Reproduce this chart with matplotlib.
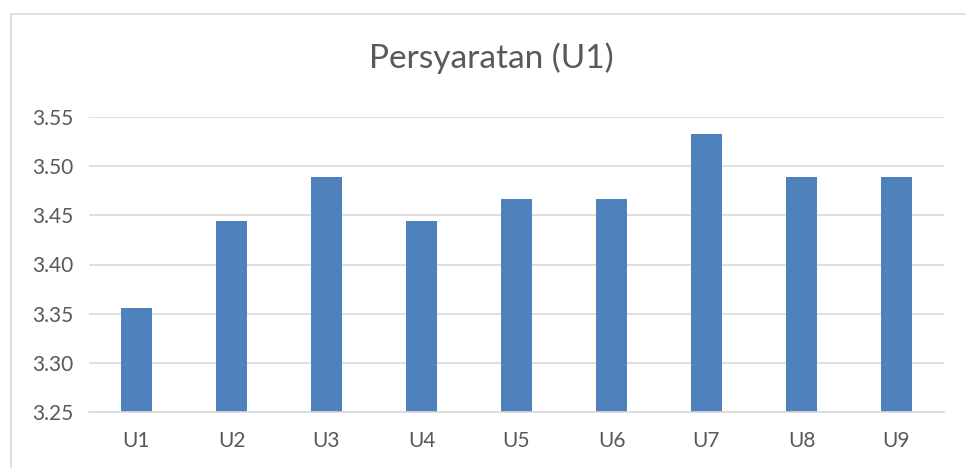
import numpy as np
import matplotlib
matplotlib.use("Agg")
import matplotlib.pyplot as plt
from matplotlib.patches import Rectangle

# data
categories = ["U1", "U2", "U3", "U4", "U5", "U6", "U7", "U8", "U9"]
values = [3.356, 3.444, 3.489, 3.444, 3.467, 3.467, 3.533, 3.489, 3.489]
yticks = [3.25, 3.30, 3.35, 3.40, 3.45, 3.50, 3.55]
title = "Persyaratan (U1)"

bar_color = "#4F81BD"
grid_color = "#D9D9D9"
text_color = "#595959"

plt.rcParams['font.family'] = ['Lato', 'DejaVu Sans']

fig = plt.figure(figsize=(9.66, 4.68), dpi=100)
fig.patch.set_facecolor("white")

# outer chart frame (only left and top edges show in the crop)
frame = Rectangle((11 / 966, -0.1), 1.2, 1 - 14 / 468 + 0.1, transform=fig.transFigure,
                  facecolor="none", edgecolor=grid_color, linewidth=1.2, clip_on=False)
fig.patches.append(frame)

ax = fig.add_axes([89 / 966, 1 - 412 / 468, (944 - 89) / 966, (412 - 117) / 468])

x = np.arange(len(categories))
ax.bar(x, values, width=0.32, color=bar_color, zorder=2)

ax.set_xlim(-0.5, len(categories) - 0.5)
ax.set_ylim(yticks[0], yticks[-1])
ax.set_yticks(yticks)
ax.set_yticklabels(["%.2f" % t for t in yticks])
ax.set_xticks(x)
ax.set_xticklabels(categories)

ax.yaxis.grid(True, color=grid_color, linewidth=1.2, zorder=0)
ax.set_axisbelow(True)
for side in ["top", "right", "left"]:
  ax.spines[side].set_visible(False)
ax.spines["bottom"].set_color(grid_color)
ax.spines["bottom"].set_linewidth(1.2)

ax.tick_params(axis="both", length=0, labelsize=15, labelcolor=text_color)
ax.tick_params(axis="x", pad=14)
ax.tick_params(axis="y", pad=11)

fig.text(491 / 966, 1 - 58 / 468, title, ha="center", va="center",
         fontsize=24, color=text_color)

fig.savefig("out.png", dpi=100, facecolor="white")
